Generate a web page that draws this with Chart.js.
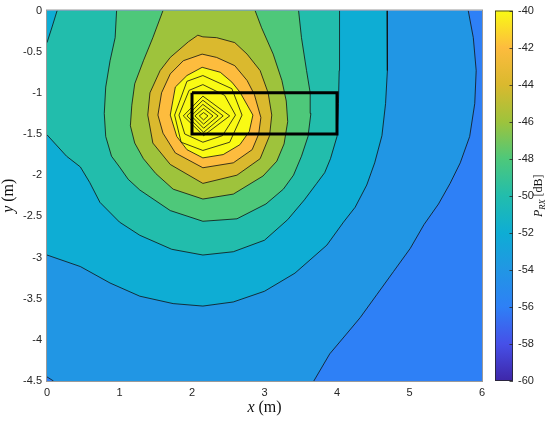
<!DOCTYPE html>
<html>
<head>
<meta charset="utf-8">
<script src="https://cdn.jsdelivr.net/npm/chart.js@4.4.1/dist/chart.umd.min.js"></script>
<style>
  html, body { margin: 0; padding: 0; background: #fff; }
  #wrap { position: relative; width: 550px; height: 421px; }
  #main { position: absolute; left: 0; top: 0; }
  #cbar { position: absolute; left: 482px; top: 0; }
</style>
</head>
<body>
<div id="wrap">
  <canvas id="main" width="550" height="421"></canvas>
  <canvas id="cbar" width="68" height="421"></canvas>
</div>
<script>
// --- values ---
const xRange = [0, 6];
const yRange = [-4.5, 0];
const xStep = 1;
const yStep = 0.5;
const colorRange = [-60, -40];
const colorStep = 2;
const baseLevel = -56;          // lowest band, covers the whole plot

// parula colour stops at t = 0, 0.1, ... 1
const parulaStops = [
  [62, 38, 168], [70, 80, 232], [46, 128, 246], [33, 150, 228], [14, 173, 212],
  [34, 189, 172], [78, 200, 122], [158, 195, 60], [218, 185, 46], [253, 188, 62], [249, 250, 20]
];

// contour lines, [x, y] in metres
const contour54 = [[5.81,0],[5.88,-0.33],[5.92,-0.73],[5.9,-1.13],[5.83,-1.53],[5.7,-1.85],[5.56,-2.1],[5.4,-2.35],
  [5.2,-2.6],[5.01,-2.89],[4.78,-3.17],[4.55,-3.45],[4.32,-3.73],[4.13,-3.93],[3.9,-4.17],[3.68,-4.5]];
const contour54Corner = [[0,-4.45],[0.09,-4.5]];
const contour52 = [[4.69,0],[4.7,-0.33],[4.69,-0.73],[4.67,-1.13],[4.62,-1.52],[4.52,-1.85],[4.41,-2.12],[4.25,-2.39],
  [4.09,-2.57],[3.86,-2.85],[3.42,-3.19],[3.0,-3.41],[2.57,-3.54],[2.15,-3.59],[1.74,-3.56],[1.28,-3.47],
  [0.87,-3.31],[0.46,-3.11],[0,-2.97]];
const contour50 = [[0,-1.51],[0.27,-1.77],[0.46,-1.9],[0.59,-2.09],[0.73,-2.33],[1.0,-2.57],[1.28,-2.73],[1.72,-2.9],
  [2.15,-2.97],[2.57,-2.93],[3.0,-2.79],[3.32,-2.54],[3.55,-2.3],[3.72,-2.1],[3.83,-1.97],[3.91,-1.8],
  [4.0,-1.53],[4.02,-1.13],[4.03,-0.73],[4.04,-0.33],[4.03,0]];
const contour50Corner = [[0.14,0],[0.07,-0.2],[0,-0.39]];
const contour48 = [[0.96,0],[0.94,-0.33],[0.87,-0.61],[0.81,-0.93],[0.79,-1.25],[0.81,-1.53],[0.89,-1.77],[1.0,-1.9],
  [1.12,-2.05],[1.28,-2.18],[1.7,-2.43],[2.15,-2.56],[2.62,-2.53],[3.02,-2.35],[3.26,-2.17],[3.4,-2.0],
  [3.51,-1.77],[3.6,-1.53],[3.64,-1.25],[3.63,-1.0],[3.58,-0.73],[3.51,-0.33],[3.47,0]];
const contour46 = [[1.6,0],[1.46,-0.33],[1.33,-0.61],[1.21,-0.89],[1.17,-1.15],[1.15,-1.4],[1.21,-1.61],[1.33,-1.8],
  [1.5,-1.98],[1.74,-2.17],[2.15,-2.29],[2.57,-2.23],[2.98,-2.01],[3.17,-1.83],[3.27,-1.62],[3.32,-1.35],
  [3.3,-1.1],[3.24,-0.85],[3.12,-0.53],[2.96,-0.21],[2.87,0]];
// closed rings round the peak
const contour44 = [[2.08,-0.3],[2.15,-0.32],[2.34,-0.33],[2.59,-0.39],[2.76,-0.53],[2.94,-0.73],[3.05,-1.0],[3.1,-1.27],
  [3.07,-1.52],[2.94,-1.8],[2.62,-2.0],[2.15,-2.1],[1.7,-1.87],[1.46,-1.61],[1.39,-1.27],[1.42,-1.0],
  [1.56,-0.73],[1.7,-0.57],[1.95,-0.38]];
const contour42 = [[2.14,-0.53],[2.34,-0.57],[2.59,-0.67],[2.76,-0.85],[2.86,-1.02],[2.95,-1.3],[2.92,-1.5],[2.83,-1.69],
  [2.57,-1.85],[2.15,-1.91],[1.77,-1.73],[1.6,-1.49],[1.53,-1.27],[1.58,-1.0],[1.7,-0.77],[1.88,-0.61]];
const contour40 = [[2.14,-0.69],[2.39,-0.75],[2.55,-0.87],[2.66,-0.99],[2.84,-1.27],[2.79,-1.47],[2.66,-1.63],[2.43,-1.75],
  [2.15,-1.79],[1.93,-1.69],[1.79,-1.53],[1.7,-1.27],[1.77,-0.93],[1.93,-0.79]];
const contour38 = [[2.15,-0.79],[2.55,-0.95],[2.69,-1.27],[2.52,-1.6],[2.15,-1.7],[1.85,-1.6],[1.76,-1.27],[1.93,-0.86]];
const contour36 = [[2.15,-0.9],[2.45,-1.03],[2.6,-1.27],[2.42,-1.52],[2.15,-1.6],[1.9,-1.5],[1.82,-1.27],[1.96,-0.97]];
const contour34 = [[2.15,-1.04],[2.52,-1.28],[2.16,-1.52],[1.88,-1.28]];
const contour32 = [[2.15,-1.09],[2.43,-1.28],[2.16,-1.48],[1.93,-1.28]];
const contour30 = [[2.15,-1.14],[2.36,-1.28],[2.16,-1.43],[1.99,-1.28]];
const contour28 = [[2.16,-1.19],[2.29,-1.28],[2.16,-1.38],[2.04,-1.28]];
const contour26 = [[2.16,-1.24],[2.22,-1.28],[2.16,-1.33],[2.1,-1.28]];
const peakLevels = [-44, -42, -40, -38, -36, -34, -32, -30, -28, -26];
const peakRings = [contour44, contour42, contour40, contour38, contour36, contour34, contour32, contour30, contour28, contour26];

// the black box
const boxX = [2, 4];
const boxY = [-1.5, -1];

// --- helpers ---
function parulaAt(t) {
  const n = parulaStops.length - 1;
  const i = Math.min(n - 1, Math.floor(t * n));
  const f = t * n - i;
  const a = parulaStops[i], b = parulaStops[i + 1];
  const c = a.map((v, k) => Math.round(v + (b[k] - v) * f));
  return `rgb(${c[0]},${c[1]},${c[2]})`;
}
function levelColor(level) {
  const t = (level - colorRange[0]) / (colorRange[1] - colorRange[0]);
  return parulaAt(Math.min(1, Math.max(0, t)));
}
const toXY = pts => pts.map(([x, y]) => ({ x, y }));
const closed = pts => [...pts, pts[0]];
const topLeft = [xRange[0], yRange[1]];

function drawRuns(ctx, runs, cx, cy, rot) {
  ctx.save();
  ctx.translate(cx, cy);
  ctx.rotate(rot);
  let total = 0;
  runs.forEach(r => { ctx.font = r.font; r.w = ctx.measureText(r.text).width; total += r.w; });
  let x = -total / 2;
  ctx.textAlign = 'left';
  ctx.textBaseline = 'alphabetic';
  ctx.fillStyle = '#111';
  runs.forEach(r => { ctx.font = r.font; ctx.fillText(r.text, x, r.dy || 0); x += r.w; });
  ctx.restore();
}

// --- filled bands, lowest first ---
const bands = [
  { level: -54, shape: [...contour54, ...contour54Corner.slice().reverse(), topLeft] },
  { level: -52, shape: [...contour52, topLeft] },
  { level: -50, shape: [...contour50, ...contour50Corner] },
  { level: -48, shape: contour48 },
  { level: -46, shape: contour46 },
  ...peakLevels.map((level, i) => ({ level, shape: peakRings[i] }))
];
const contourLines = [contour54, contour54Corner, contour52, contour50, contour50Corner, contour48, contour46,
  ...peakRings.map(closed)];

const datasets = [];
bands.forEach((b, i) => {
  datasets.push({
    data: toXY(b.shape),
    fill: 'shape',
    backgroundColor: levelColor(b.level),
    borderColor: 'rgba(0,0,0,0)',
    borderWidth: 0,
    order: 100 - i
  });
});
contourLines.forEach(pts => {
  datasets.push({ data: toXY(pts), fill: false, borderColor: '#111', borderWidth: 0.8, order: 1 });
});
datasets.push({
  data: toXY([[boxX[0], boxY[1]], [boxX[1], boxY[1]], [boxX[1], boxY[0]], [boxX[0], boxY[0]], [boxX[0], boxY[1]]]),
  fill: false, borderColor: '#000', borderWidth: 3, borderJoinStyle: 'miter', order: 0
});

const tickFont = { family: '"Liberation Sans", Arial, sans-serif', size: 11 };
const labelSerif = '"Liberation Serif", "DejaVu Serif", serif';

const mainDecor = {
  id: 'mainDecor',
  beforeDatasetsDraw(chart) {
    const { ctx, chartArea: a } = chart;
    ctx.save();
    ctx.fillStyle = levelColor(baseLevel);
    ctx.fillRect(a.left, a.top, a.right - a.left, a.bottom - a.top);
    ctx.restore();
  },
  afterDraw(chart) {
    const { ctx, chartArea: a } = chart;
    ctx.save();
    ctx.strokeStyle = '#9a9a9a';
    ctx.lineWidth = 1;
    ctx.strokeRect(a.left - 0.5, a.top - 0.5, a.right - a.left + 1, a.bottom - a.top + 1);
    ctx.restore();
    const cx = (a.left + a.right) / 2, cy = (a.top + a.bottom) / 2;
    drawRuns(ctx, [{ text: 'x', font: `italic 16px ${labelSerif}` }, { text: ' (m)', font: `16px ${labelSerif}` }],
      cx, 412, 0);
    drawRuns(ctx, [{ text: 'y', font: `italic 16px ${labelSerif}` }, { text: ' (m)', font: `16px ${labelSerif}` }],
      13, cy, -Math.PI / 2);
  }
};

new Chart(document.getElementById('main'), {
  type: 'line',
  data: { datasets },
  options: {
    responsive: false,
    animation: false,
    events: [],
    devicePixelRatio: 1,
    layout: { padding: { left: 0, right: 68, top: 6, bottom: 0 } },
    elements: { point: { radius: 0 }, line: { tension: 0 } },
    plugins: { legend: { display: false }, tooltip: { enabled: false } },
    scales: {
      x: {
        type: 'linear', min: xRange[0], max: xRange[1],
        grid: { display: false, drawTicks: false }, border: { display: false },
        ticks: { stepSize: xStep, padding: 5, color: '#262626', font: tickFont, callback: v => `${v}` },
        afterFit: s => { s.height = 40; }
      },
      y: {
        type: 'linear', min: yRange[0], max: yRange[1],
        grid: { display: false, drawTicks: false }, border: { display: false },
        ticks: { stepSize: yStep, padding: 5, color: '#262626', font: { ...tickFont, lineHeight: 1 }, callback: v => `${v}` },
        afterFit: s => { s.width = 47; }
      }
    }
  },
  plugins: [mainDecor]
});

// --- colour bar ---
const cbarDecor = {
  id: 'cbarDecor',
  afterDraw(chart) {
    const { ctx, chartArea: a, scales: { y } } = chart;
    ctx.save();
    ctx.strokeStyle = '#262626';
    ctx.lineWidth = 0.8;
    ctx.beginPath();
    y.ticks.forEach(t => {
      const py = Math.round(y.getPixelForValue(t.value)) + 0.5;
      ctx.moveTo(a.right, py);
      ctx.lineTo(a.right - 3.5, py);
    });
    ctx.stroke();
    ctx.strokeRect(a.left + 0.5, a.top + 0.5, a.right - a.left - 1, a.bottom - a.top - 1);
    ctx.restore();
    drawRuns(ctx, [
      { text: 'P', font: `italic 12px ${labelSerif}` },
      { text: 'RX', font: `italic 8.5px ${labelSerif}`, dy: 2.5 },
      { text: ' [dB]', font: `12px ${labelSerif}` }
    ], 60, (a.top + a.bottom) / 2, -Math.PI / 2);
  }
};

new Chart(document.getElementById('cbar'), {
  type: 'bar',
  data: {
    labels: ['P'],
    datasets: [{
      data: [colorRange],
      borderWidth: 0,
      barPercentage: 1,
      categoryPercentage: 1,
      backgroundColor: (c) => {
        const area = c.chart.chartArea;
        if (!area) return parulaAt(0.5);
        const g = c.chart.ctx.createLinearGradient(0, area.bottom, 0, area.top);
        parulaStops.forEach((s, i) => g.addColorStop(i / (parulaStops.length - 1), `rgb(${s[0]},${s[1]},${s[2]})`));
        return g;
      }
    }]
  },
  options: {
    responsive: false,
    animation: false,
    events: [],
    devicePixelRatio: 1,
    layout: { padding: { left: 13, right: 0, top: 6, bottom: 40 } },
    plugins: { legend: { display: false }, tooltip: { enabled: false } },
    scales: {
      x: { display: false },
      y: {
        position: 'right', min: colorRange[0], max: colorRange[1],
        grid: { display: false, drawTicks: false }, border: { display: false },
        ticks: { stepSize: colorStep, padding: 5, color: '#262626', font: { ...tickFont, lineHeight: 1 }, callback: v => `${v}` },
        afterFit: s => { s.width = 37; }
      }
    }
  },
  plugins: [cbarDecor]
});
</script>
</body>
</html>
